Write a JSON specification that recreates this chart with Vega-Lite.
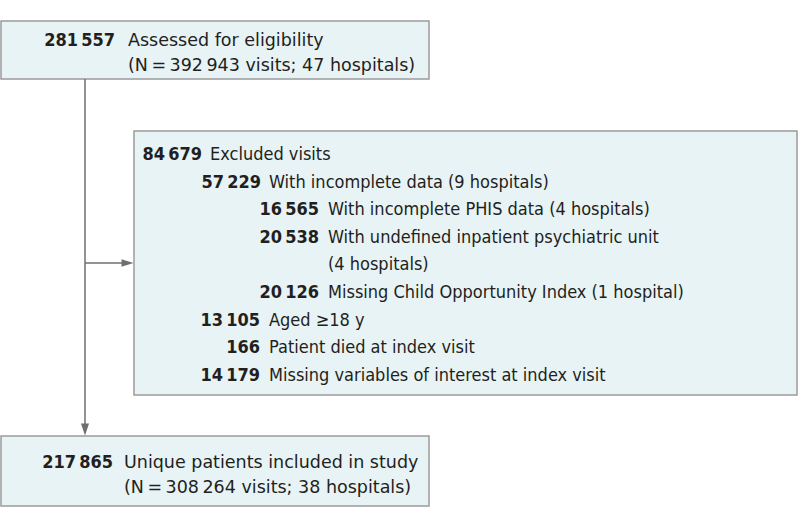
{
  "$schema": "https://vega.github.io/schema/vega-lite/v6.json",
  "width": 798,
  "height": 527,
  "autosize": {"type": "none"},
  "padding": 0,
  "background": "white",
  "config": {"view": {"stroke": null}},
  "datasets": {
    "boxes": [
      {"name": "assessed", "x": 1, "x2": 429, "y": 21, "y2": 79},
      {"name": "excluded", "x": 134, "x2": 797, "y": 131, "y2": 395},
      {"name": "included", "x": 1, "x2": 429, "y": 436, "y2": 506}
    ],
    "links": [
      {"x": 85, "x2": 85, "y": 79, "y2": 426},
      {"x": 85, "x2": 124, "y": 263, "y2": 263}
    ],
    "heads": [
      {"x": 85, "y": 429.5, "shape": "M-0.67,-1L0.67,-1L0,1Z"},
      {"x": 127.5, "y": 263, "shape": "M-1,-0.62L-1,0.62L1,0Z"}
    ],
    "numbers": [
      {"t": "281\u2009557", "x": 115, "y": 46},
      {"t": "84\u2009679", "x": 202, "y": 160},
      {"t": "57\u2009229", "x": 261, "y": 188},
      {"t": "16\u2009565", "x": 319, "y": 215},
      {"t": "20\u2009538", "x": 319, "y": 243},
      {"t": "20\u2009126", "x": 319, "y": 298},
      {"t": "13\u2009105", "x": 260, "y": 326},
      {"t": "166", "x": 260, "y": 353},
      {"t": "14\u2009179", "x": 260, "y": 381},
      {"t": "217\u2009865", "x": 113, "y": 468}
    ],
    "outerLabels": [
      {"t": "Assessed for eligibility", "x": 128, "y": 46},
      {"t": "(N\u2009=\u2009392\u2009943 visits; 47 hospitals)", "x": 128, "y": 71},
      {"t": "Unique patients included in study", "x": 124, "y": 468},
      {"t": "(N\u2009=\u2009308\u2009264 visits; 38 hospitals)", "x": 124, "y": 493}
    ],
    "labels": [
      {"t": "Excluded visits", "x": 210, "y": 160},
      {"t": "With incomplete data (9 hospitals)", "x": 269, "y": 188},
      {"t": "With incomplete PHIS data (4 hospitals)", "x": 328, "y": 215},
      {"t": "With undefined inpatient psychiatric unit", "x": 328, "y": 243},
      {"t": "(4 hospitals)", "x": 328, "y": 270},
      {"t": "Missing Child Opportunity Index (1 hospital)", "x": 328, "y": 298},
      {"t": "Aged \u226518 y", "x": 269, "y": 326},
      {"t": "Patient died at index visit", "x": 269, "y": 353},
      {"t": "Missing variables of interest at index visit", "x": 269, "y": 381}
    ]
  },
  "layer": [
    {
      "data": {"name": "boxes"},
      "mark": {"type": "rect", "fill": "#e8f3f5", "stroke": "#9b9b9b", "strokeWidth": 1.5},
      "encoding": {
        "x": {"field": "x", "type": "quantitative", "scale": {"domain": [0, 798]}, "axis": null},
        "x2": {"field": "x2"},
        "y": {"field": "y", "type": "quantitative", "scale": {"domain": [0, 527], "reverse": true}, "axis": null},
        "y2": {"field": "y2"}
      }
    },
    {
      "data": {"name": "links"},
      "mark": {"type": "rule", "stroke": "#6f6f6f", "strokeWidth": 1.5},
      "encoding": {
        "x": {"field": "x", "type": "quantitative", "scale": {"domain": [0, 798]}, "axis": null},
        "x2": {"field": "x2"},
        "y": {"field": "y", "type": "quantitative", "scale": {"domain": [0, 527], "reverse": true}, "axis": null},
        "y2": {"field": "y2"}
      }
    },
    {
      "data": {"name": "heads"},
      "mark": {"type": "point", "filled": true, "fill": "#6f6f6f", "opacity": 1, "size": 144, "strokeWidth": 0},
      "encoding": {
        "x": {"field": "x", "type": "quantitative", "scale": {"domain": [0, 798]}, "axis": null},
        "y": {"field": "y", "type": "quantitative", "scale": {"domain": [0, 527], "reverse": true}, "axis": null},
        "shape": {"field": "shape", "type": "nominal", "scale": null, "legend": null}
      }
    },
    {
      "data": {"name": "numbers"},
      "mark": {"type": "text", "align": "right", "baseline": "alphabetic", "font": "DejaVu Sans Condensed, sans-serif", "fontSize": 18, "fontWeight": "bold", "fill": "#231f20"},
      "encoding": {
        "x": {"field": "x", "type": "quantitative", "scale": {"domain": [0, 798]}, "axis": null},
        "y": {"field": "y", "type": "quantitative", "scale": {"domain": [0, 527], "reverse": true}, "axis": null},
        "text": {"field": "t"}
      }
    },
    {
      "data": {"name": "outerLabels"},
      "mark": {"type": "text", "align": "left", "baseline": "alphabetic", "font": "DejaVu Sans, sans-serif", "fontSize": 17.5, "fill": "#231f20"},
      "encoding": {
        "x": {"field": "x", "type": "quantitative", "scale": {"domain": [0, 798]}, "axis": null},
        "y": {"field": "y", "type": "quantitative", "scale": {"domain": [0, 527], "reverse": true}, "axis": null},
        "text": {"field": "t"}
      }
    },
    {
      "data": {"name": "labels"},
      "mark": {"type": "text", "align": "left", "baseline": "alphabetic", "font": "DejaVu Sans Condensed, sans-serif", "fontSize": 18, "fill": "#231f20"},
      "encoding": {
        "x": {"field": "x", "type": "quantitative", "scale": {"domain": [0, 798]}, "axis": null},
        "y": {"field": "y", "type": "quantitative", "scale": {"domain": [0, 527], "reverse": true}, "axis": null},
        "text": {"field": "t"}
      }
    }
  ]
}
